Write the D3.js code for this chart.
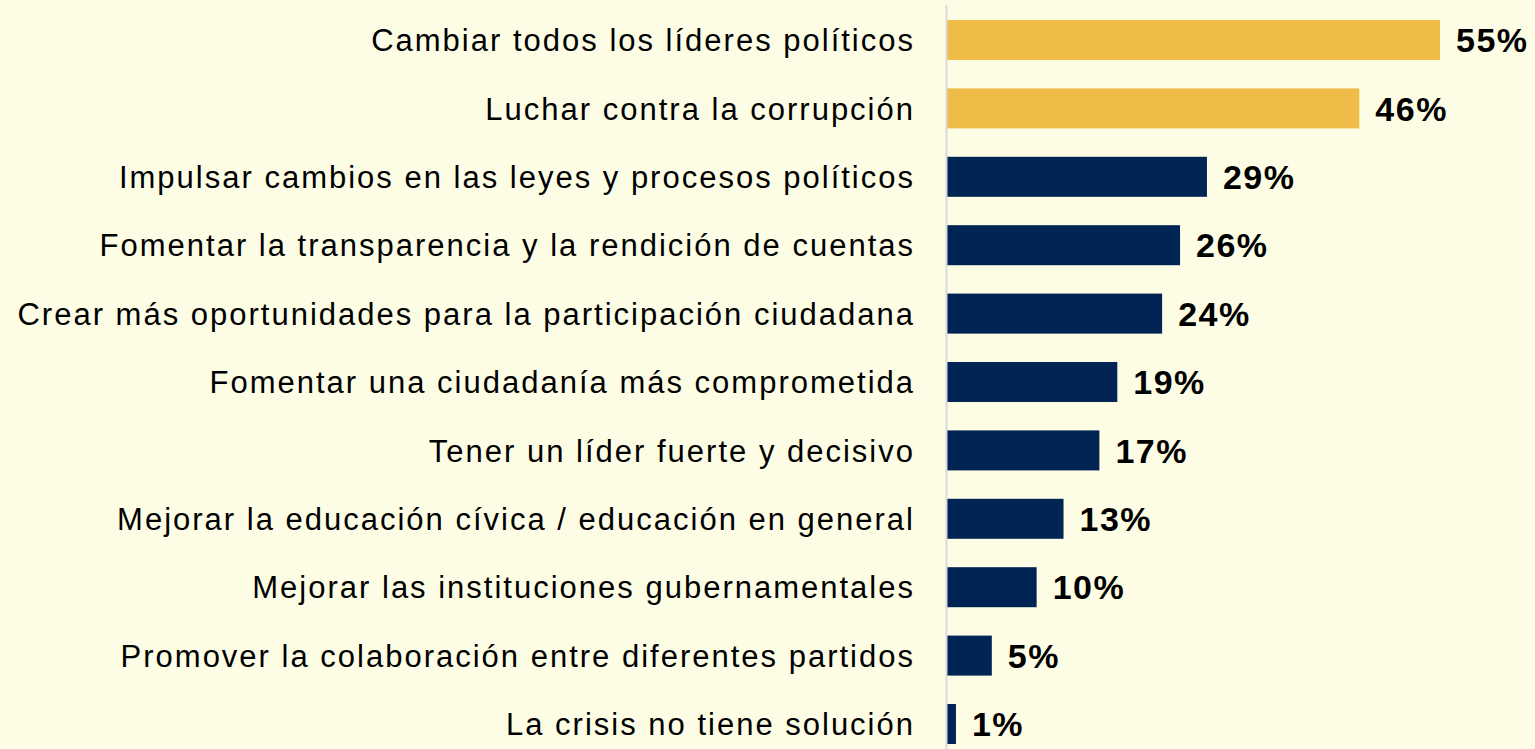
<!DOCTYPE html>
<html>
<head>
<meta charset="utf-8">
<script src="https://cdn.jsdelivr.net/npm/d3@7"></script>
<style>
  html, body { margin: 0; padding: 0; background: #fdfde5; }
  svg { display: block; }
</style>
</head>
<body>
<svg id="chart"></svg>
<script>
var categories = [
    "Cambiar todos los líderes políticos",
    "Luchar contra la corrupción",
    "Impulsar cambios en las leyes y procesos políticos",
    "Fomentar la transparencia y la rendición de cuentas",
    "Crear más oportunidades para la participación ciudadana",
    "Fomentar una ciudadanía más comprometida",
    "Tener un líder fuerte y decisivo",
    "Mejorar la educación cívica / educación en general",
    "Mejorar las instituciones gubernamentales",
    "Promover la colaboración entre diferentes partidos",
    "La crisis no tiene solución"
]
var values = [55, 46, 29, 26, 24, 19, 17, 13, 10, 5, 1]
var highlighted = [true, true, false, false, false, false, false, false, false, false, false]

var width = 1535, height = 749
var svg = d3.select("#chart")
    .attr("width", width)
    .attr("height", height)

svg.append("rect")
    .attr("width", width)
    .attr("height", height)
    .attr("fill", "#fdfde5")

var x0 = 947
var x = d3.scaleLinear()
    .domain([0, 55])
    .range([x0, 1440])

var y = d3.scaleBand()
    .domain(categories)
    .range([5.8, 758.2])
    .paddingInner(0.415)
    .paddingOuter(0.2075)

var data = categories.map(function (c, i) {
    return {name: c, value: values[i], hi: highlighted[i]}
})

svg.selectAll("rect.bar")
    .data(data)
    .enter()
    .append("rect")
        .attr("class", "bar")
        .attr("x", x(0))
        .attr("y", function (d) { return y(d.name) })
        .attr("width", function (d) { return x(d.value) - x(0) })
        .attr("height", y.bandwidth())
        .attr("fill", function (d) { return d.hi ? "#f0bc48" : "#002554" })

// axis line
svg.append("line")
    .attr("x1", x0 - 0.5)
    .attr("x2", x0 - 0.5)
    .attr("y1", 5)
    .attr("y2", height)
    .attr("stroke", "#d9d9d9")
    .attr("stroke-width", 2)

svg.selectAll("text.cat")
    .data(data)
    .enter()
    .append("text")
        .attr("class", "cat")
        .attr("x", 915)
        .attr("y", function (d) { return y(d.name) + y.bandwidth() / 2 })
        .attr("dy", "0.36em")
        .attr("text-anchor", "end")
        .style("font-family", "'Liberation Sans', Arial, sans-serif")
        .style("font-size", "31px")
        .style("letter-spacing", "2px")
        .attr("fill", "#000")
        .text(function (d) { return d.name })

svg.selectAll("text.val")
    .data(data)
    .enter()
    .append("text")
        .attr("class", "val")
        .attr("x", function (d) { return x(d.value) + 16 })
        .attr("y", function (d) { return y(d.name) + y.bandwidth() / 2 })
        .attr("dy", "0.36em")
        .style("font-family", "'Liberation Sans', Arial, sans-serif")
        .style("font-size", "34px")
        .style("font-weight", "bold")
        .style("letter-spacing", "1.5px")
        .attr("fill", "#000")
        .text(function (d) { return d.value + "%" })
</script>
</body>
</html>
